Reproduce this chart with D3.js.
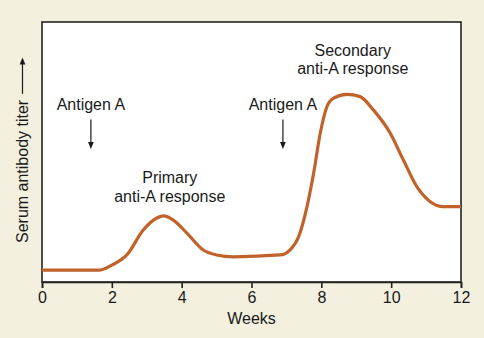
<!DOCTYPE html>
<html>
<head>
<meta charset="utf-8">
<script src="https://cdn.jsdelivr.net/npm/d3@7"></script>
<style>
  html, body { margin: 0; padding: 0; background: #f3f0df; }
  svg { display: block; }
  text { font-family: "Liberation Sans", Arial, Helvetica, sans-serif; fill: #1a1a1a; }
</style>
</head>
<body>
<svg id="chart" width="484" height="338"></svg>
<script>
// Antibody titer over time (weeks); titer in arbitrary relative units
const weeks = [0, 1.66, 2.0, 2.43, 2.9, 3.29, 3.48, 3.76, 4.15, 4.62, 5.0, 5.48, 6.82, 7.1, 7.35, 7.59, 7.78, 7.97, 8.16, 8.35, 8.73, 9.11, 9.49, 9.97, 10.35, 10.74, 11.12, 11.5, 12];
const titer = [4.6, 4.6, 6.5, 10.4, 20, 24.6, 25.4, 23.8, 18.8, 12.3, 10.4, 9.7, 10.4, 12.3, 17.4, 29, 41.9, 57.3, 67.4, 70.7, 72.2, 71.3, 66.2, 57.3, 46.9, 36.6, 30.9, 29, 29];
const xTicks = [0, 2, 4, 6, 8, 10, 12];

// Antigen injections (week) and response labels
const antigenWeeks = [1.4, 6.9];
const antigenLabel = "Antigen A";
const responses = [
  { lines: ["Primary", "anti-A response"], week: 3.66, level: 38 },
  { lines: ["Secondary", "anti-A response"], week: 8.9, level: 87 }
];

const svg = d3.select("#chart");
const margin = { left: 42, right: 23, top: 22, bottom: 56 };
const W = 484, H = 338;

const x = d3.scaleLinear().domain([0, 12]).range([margin.left, W - margin.right]);
const y = d3.scaleLinear().domain([0, 100]).range([H - margin.bottom, margin.top]);

// plot area
svg.append("rect")
  .attr("x", x(0)).attr("y", y(100))
  .attr("width", x(12) - x(0)).attr("height", y(0) - y(100))
  .attr("fill", "#ffffff").attr("stroke", "#222").attr("stroke-width", 1.6);

// x axis
const xAxis = d3.axisBottom(x).tickValues(xTicks).tickSize(6).tickPadding(4).tickFormat(d3.format("d"));
const gx = svg.append("g").attr("transform", `translate(0,${y(0)})`).call(xAxis);
gx.select(".domain").attr("stroke", "#222").attr("stroke-width", 1.6);
gx.selectAll(".tick line").attr("stroke", "#222").attr("stroke-width", 1.6);
gx.selectAll(".tick text").style("font-size", "16px").attr("fill", "#1a1a1a");

svg.append("text")
  .attr("x", (x(0) + x(12)) / 2).attr("y", 324)
  .attr("text-anchor", "middle").style("font-size", "16px")
  .text("Weeks");

// y axis label with upward arrow
svg.append("defs").append("marker")
  .attr("id", "head").attr("viewBox", "0 0 10 10")
  .attr("refX", 5).attr("refY", 5)
  .attr("markerWidth", 6).attr("markerHeight", 6)
  .attr("orient", "auto")
  .append("path").attr("d", "M0,1 L10,5 L0,9 Z").attr("fill", "#1a1a1a");

const yl = svg.append("g").attr("transform", "translate(28,243) rotate(-90)");
const ylText = yl.append("text").attr("x", 0).attr("y", 0).style("font-size", "16px").text("Serum antibody titer");
const ylLen = ylText.node().getComputedTextLength();
yl.append("line").attr("x1", ylLen + 6).attr("x2", 182).attr("y1", -5.5).attr("y2", -5.5)
  .attr("stroke", "#1a1a1a").attr("stroke-width", 1.2).attr("marker-end", "url(#head)");

// curve
const line = d3.line()
  .x((d, i) => x(weeks[i]))
  .y((d, i) => y(titer[i]))
  .curve(d3.curveMonotoneX);

svg.append("path")
  .datum(titer)
  .attr("d", line)
  .attr("fill", "none")
  .attr("stroke", "#c0622a")
  .attr("stroke-width", 3.2)
  .attr("stroke-linejoin", "round");

// antigen annotations
antigenWeeks.forEach(w => {
  svg.append("text")
    .attr("x", x(w)).attr("y", y(66))
    .attr("text-anchor", "middle").style("font-size", "16px")
    .text(antigenLabel);
  svg.append("line")
    .attr("x1", x(w)).attr("x2", x(w))
    .attr("y1", y(62.5)).attr("y2", y(52.5))
    .attr("stroke", "#1a1a1a").attr("stroke-width", 1.2)
    .attr("marker-end", "url(#head)");
});

// response labels
responses.forEach(r => {
  const t = svg.append("text")
    .attr("x", x(r.week)).attr("y", y(r.level))
    .attr("text-anchor", "middle").style("font-size", "16px");
  r.lines.forEach((s, i) => {
    t.append("tspan").attr("x", x(r.week)).attr("dy", i === 0 ? 0 : 18.5).text(s);
  });
});
</script>
</body>
</html>
